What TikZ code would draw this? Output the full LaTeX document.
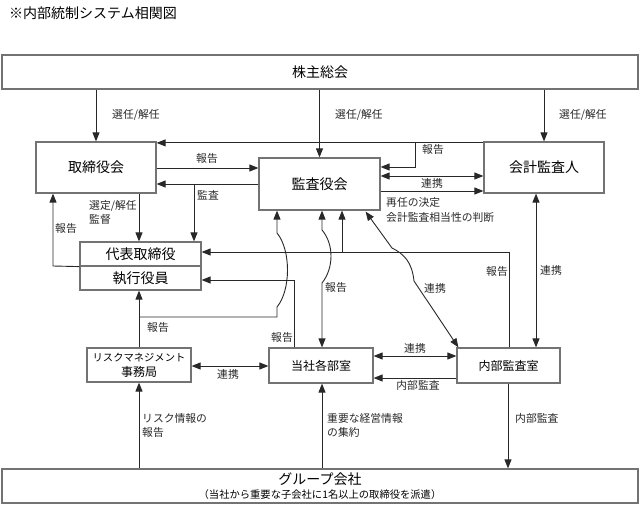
\documentclass[tikz,border=0pt]{standalone}
\usepackage{fontspec}
\setmainfont{Noto Sans CJK JP}
\usetikzlibrary{arrows.meta}
\definecolor{boxgray}{RGB}{115,115,115}
\definecolor{linec}{RGB}{40,40,40}
\begin{document}
\begin{tikzpicture}[x=1pt,y=-1pt,
  box/.style={draw=boxgray, line width=1.2pt, inner sep=0pt, align=center, fill=white, font=\fontsize{14}{16}\selectfont},
  sbox/.style={box, font=\fontsize{12}{15}\selectfont},
  lbl/.style={font=\fontsize{10.8}{13}\selectfont, inner sep=0pt, text=linec},
  conn/.style={draw=linec, line width=0.9pt},
  arr/.style={conn, -{Triangle[length=9pt,width=7pt]}},
  darr/.style={conn, {Triangle[length=9pt,width=7pt]}-{Triangle[length=9pt,width=7pt]}}
]
\useasboundingbox (0,0) rectangle (640,505);

% title
\node[anchor=west, inner sep=0pt, font=\fontsize{14}{16}\selectfont] (title) at (9,13) {※内部統制システム相関図};

% boxes
\node[box, minimum width=636pt, minimum height=34pt] (kabu) at (320,72) {株主総会};
\node[box, minimum width=120pt, minimum height=51pt] (tori) at (96,167.5) {取締役会};
\node[box, minimum width=121pt, minimum height=52pt] (kansa) at (319.5,184) {監査役会};
\node[box, minimum width=120pt, minimum height=51pt] (kaikei) at (544,167.5) {会計監査人};
\node[box, minimum width=121pt, minimum height=24pt] (daihyo) at (140.5,254) {代表取締役};
\node[box, minimum width=121pt, minimum height=24pt] (shikko) at (140.5,278) {執行役員};
\node[sbox, minimum width=104pt, minimum height=34pt] (risk) at (139,365) {{\fontsize{10.3}{15}\selectfont リスクマネジメント}\\事務局};
\node[sbox, minimum width=104pt, minimum height=35pt] (bushitsu) at (321,365.5) {当社各部室};
\node[sbox, minimum width=103pt, minimum height=35pt] (naibu) at (508.5,365.5) {内部監査室};
\node[box, minimum width=636pt, minimum height=34pt] (group) at (320,486)
  {グループ会社\\[-2pt]{\fontsize{10.3}{12}\selectfont （当社から重要な子会社に1名以上の取締役を派遣）}};

% shareholders -> boards
\draw[arr] (tori.north |- kabu.south) -- (tori.north);
\draw[arr] (kansa.north |- kabu.south) -- (kansa.north);
\draw[arr] (kaikei.north |- kabu.south) -- (kaikei.north);
\node[lbl, anchor=west] (l1) at (112,115) {選任/解任};
\node[lbl, anchor=west] (l2) at (335,115) {選任/解任};
\node[lbl, anchor=west] (l3) at (559,115) {選任/解任};

% kaikei -> tori and kansa (報告)
\coordinate (k4) at ([yshift=-1.5pt]kaikei.north west);
\coordinate (b4) at (415,143.5);
\draw[arr] (k4) -- (tori.east |- k4);
\draw[arr] (b4) |- (kansa.east |- 0,167);
\node[lbl, anchor=west] (l4) at (422,149) {報告};

% tori <-> kansa
\draw[arr] (tori.east |- 0,168) -- (kansa.west |- 0,168);
\node[lbl] (l5) at (207,158) {報告};
\draw[arr] (kansa.west |- 0,184) -- (tori.east |- 0,184);
\coordinate (b6) at (194,184);
\draw[arr] (b6) -- (b6 |- daihyo.north);
\node[lbl, anchor=west] (l6) at (197,195) {監査};

% kansa <-> kaikei
\draw[darr] (kansa.east |- 0,176) -- (kaikei.west |- 0,176);
\node[lbl] (l7) at (432,183) {連携};
\draw[arr] (kansa.east |- 0,191) -- (kaikei.west |- 0,191);
\node[lbl, anchor=west] (l8a) at (386,202) {再任の決定};
\node[lbl, anchor=west] (l8b) at (386,217) {会計監査相当性の判断};

% tori -> daihyo
\draw[arr] (tori.south -| 139,0) -- (daihyo.north -| 139,0);
\node[lbl, anchor=west] (l9a) at (89,206) {選定/解任};
\node[lbl, anchor=west] (l9b) at (89,219) {監督};

% daihyo -> tori (報告)
\coordinate (c10) at (53,266);
\draw[arr] (daihyo.south west) -- (c10) -- (c10 |- tori.south);
\node[lbl] (l10) at (66,228) {報告};

% naibu -> daihyo, kansa (報告)
\coordinate (c11) at (509,252);
\coordinate (b11) at (342,252);
\draw[arr] (naibu.north -| c11) -- (c11) -- (daihyo.east |- c11);
\draw[arr] (b11) -- (b11 |- kansa.south);
\node[lbl] (l11) at (497,271) {報告};

% bushitsu -> shikko (報告)
\coordinate (c12) at (294,280);
\draw[arr] (bushitsu.north -| c12) -- (c12) -- (shikko.east |- c12);
\node[lbl] (l12) at (282,337) {報告};

% risk -> shikko, kansa (報告)
\draw[arr] (risk.north) -- (risk.north |- shikko.south);
\coordinate (b13) at (139,317);
\draw[arr] (b13) -- (277,317) -- (277,307) .. controls (291,290) and (291,250) .. (277,233) -- (kansa.south -| 277,0);
\node[lbl] (l13) at (158,327) {報告};

% kansa <-> bushitsu (報告)
\draw[darr] (kansa.south -| 322,0) -- (322,230) .. controls (334,244) and (334,268) .. (322,283) -- (bushitsu.north -| 322,0);
\node[lbl] (l14) at (336,287) {報告};

% kansa <-> naibu (連携)
\draw[darr] ([xshift=-15pt,yshift=-1pt]kansa.south east) -- (392,248) .. controls (404,254) and (412,262) .. (414,281) -- ([xshift=2pt]naibu.north west);
\node[lbl] (l15) at (435,288) {連携};

% kaikei <-> naibu
\draw[darr] (kaikei.south -| 536,0) -- (naibu.north -| 536,0);
\node[lbl] (l16) at (551,270) {連携};

% lower row
\draw[darr] (risk.east |- 0,366) -- (bushitsu.west |- 0,366);
\node[lbl] (l17) at (228,374) {連携};
\draw[darr] (bushitsu.east |- 0,356) -- (naibu.west |- 0,356);
\node[lbl] (l18) at (415,348) {連携};
\draw[arr] (naibu.west |- 0,378) -- (bushitsu.east |- 0,378);
\node[lbl] (l19) at (418,385) {内部監査};

% group
\draw[arr] (risk.south |- group.north) -- (risk.south);
\node[lbl, anchor=west] (l20a) at (142,418) {リスク情報の};
\node[lbl, anchor=west] (l20b) at (142,432) {報告};
\draw[arr] (group.north -| 322,0) -- (bushitsu.south -| 322,0);
\node[lbl, anchor=west] (l21a) at (327,418) {重要な経営情報};
\node[lbl, anchor=west] (l21b) at (327,432) {の集約};
\draw[arr] (naibu.south -| 508,0) -- (group.north -| 508,0);
\node[lbl, anchor=west] (l22) at (515,418) {内部監査};
\end{tikzpicture}
\end{document}
